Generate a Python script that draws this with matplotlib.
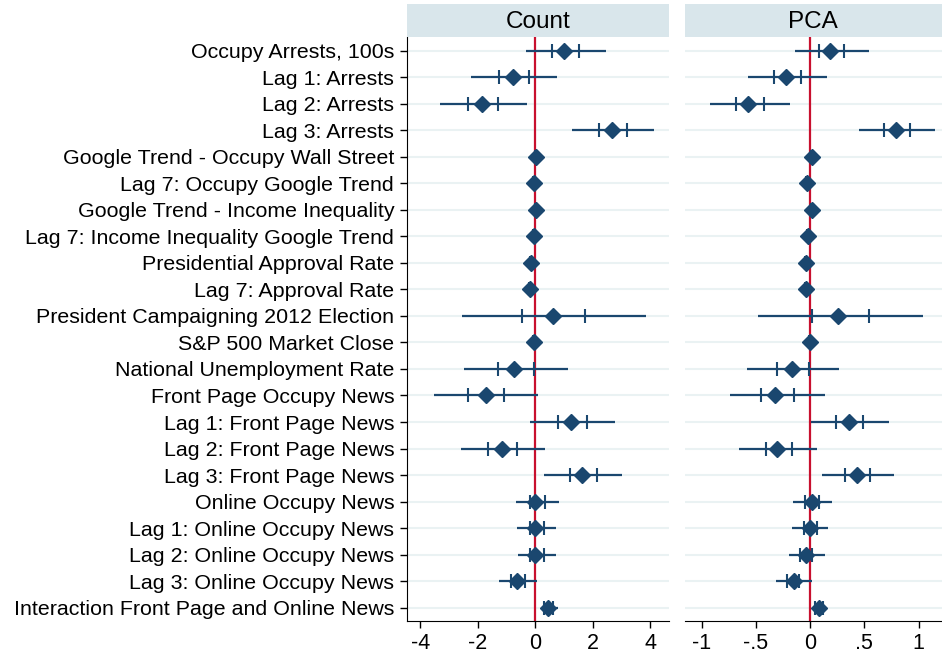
import numpy as np
import matplotlib.pyplot as plt

plt.rcParams['font.family'] = ['Liberation Sans', 'DejaVu Sans']

labels = ["Occupy Arrests, 100s", "Lag 1: Arrests", "Lag 2: Arrests", "Lag 3: Arrests",
          "Google Trend - Occupy Wall Street", "Lag 7: Occupy Google Trend",
          "Google Trend - Income Inequality", "Lag 7: Income Inequality Google Trend",
          "Presidential Approval Rate", "Lag 7: Approval Rate",
          "President Campaigning 2012 Election", "S&P 500 Market Close",
          "National Unemployment Rate", "Front Page Occupy News",
          "Lag 1: Front Page News", "Lag 2: Front Page News", "Lag 3: Front Page News",
          "Online Occupy News", "Lag 1: Online Occupy News", "Lag 2: Online Occupy News",
          "Lag 3: Online Occupy News", "Interaction Front Page and Online News"]

# Count model: estimate, inner interval, outer (95%) interval
count_est = [1.00, -0.79, -1.87, 2.69, 0.02, -0.06, 0.01, -0.06, -0.16, -0.19, 0.63,
             -0.06, -0.74, -1.73, 1.25, -1.17, 1.63, 0.00, 0.00, 0.00, -0.63, 0.43]
count_lo90 = [0.58, -1.25, -2.35, 2.21, 0.00, -0.08, -0.01, -0.08, -0.20, -0.22, -0.45,
              -0.07, -1.31, -2.33, 0.80, -1.63, 1.21, -0.19, -0.19, -0.17, -0.84, 0.30]
count_hi90 = [1.53, -0.22, -1.29, 3.19, 0.04, -0.04, 0.03, -0.04, -0.12, -0.15, 1.75,
              -0.05, -0.05, -1.08, 1.82, -0.63, 2.14, 0.35, 0.30, 0.30, -0.37, 0.63]
count_lo95 = [-0.33, -2.24, -3.33, 1.28, -0.01, -0.09, -0.02, -0.09, -0.22, -0.24, -2.54,
              -0.08, -2.49, -3.52, -0.17, -2.59, 0.30, -0.67, -0.63, -0.59, -1.27, 0.26]
count_hi95 = [2.45, 0.77, -0.30, 4.15, 0.05, -0.03, 0.04, -0.03, 0.07, 0.05, 3.86,
              -0.04, 1.13, 0.09, 2.78, 0.34, 3.01, 0.84, 0.74, 0.74, 0.07, 0.79]

# PCA model
pca_est = [0.18, -0.22, -0.57, 0.79, 0.02, -0.03, 0.02, -0.02, -0.04, -0.04, 0.26,
           0.00, -0.17, -0.32, 0.36, -0.30, 0.43, 0.02, 0.00, -0.04, -0.15, 0.08]
pca_lo90 = [0.08, -0.33, -0.68, 0.68, 0.01, -0.04, 0.01, -0.03, -0.05, -0.05, 0.02,
            -0.01, -0.30, -0.45, 0.24, -0.41, 0.32, -0.05, -0.06, -0.09, -0.21, 0.05]
pca_hi90 = [0.31, -0.08, -0.42, 0.92, 0.03, -0.02, 0.03, -0.01, -0.03, -0.03, 0.54,
            0.01, -0.01, -0.15, 0.49, -0.17, 0.55, 0.08, 0.06, 0.02, -0.10, 0.12]
pca_lo95 = [-0.14, -0.57, -0.92, 0.45, 0.00, -0.05, 0.00, -0.04, -0.06, -0.06, -0.48,
            -0.01, -0.58, -0.74, 0.01, -0.65, 0.11, -0.16, -0.17, -0.19, -0.31, 0.03]
pca_hi95 = [0.54, 0.16, -0.18, 1.15, 0.04, -0.01, 0.04, 0.00, -0.02, -0.02, 1.04,
            0.01, 0.27, 0.14, 0.73, 0.06, 0.77, 0.20, 0.17, 0.14, 0.02, 0.15]

navy = "#1a476f"
red = "#c8102e"
head_col = "#d9e6eb"
grid_col = "#eaf2f3"

fig = plt.figure(figsize=(9.42, 6.57), dpi=100)
y = np.arange(1, len(labels) + 1)

panels = [
    ("Count", count_est, count_lo90, count_hi90, count_lo95, count_hi95,
     [0.4317, 0.0548, 0.2782, 0.8884], (-4.48, 4.65), [-4, -2, 0, 2, 4], ["-4", "-2", "0", "2", "4"]),
    ("PCA", pca_est, pca_lo90, pca_hi90, pca_lo95, pca_hi95,
     [0.7272, 0.0548, 0.2723, 0.8884], (-1.152, 1.212), [-1, -0.5, 0, 0.5, 1], ["-1", "-.5", "0", ".5", "1"]),
]

for i, (title, est, lo90, hi90, lo95, hi95, pos, xl, xt, xtl) in enumerate(panels):
    ax = fig.add_axes(pos)
    for yy in y:
        ax.axhline(yy, color=grid_col, lw=1.5, zorder=0)
    ax.axvline(0, color=red, lw=1.6, zorder=2)
    ax.hlines(y, lo95, hi95, color=navy, lw=1.6, zorder=3)
    ax.plot(lo90, y, ls="none", marker="|", ms=10, mew=1.5, color=navy, zorder=3)
    ax.plot(hi90, y, ls="none", marker="|", ms=10, mew=1.5, color=navy, zorder=3)
    ax.plot(est, y, ls="none", marker="D", ms=8.5, color=navy, zorder=4)
    ax.set_xlim(xl)
    ax.set_ylim(len(labels) + 0.5, 0.5)
    ax.set_xticks(xt)
    ax.set_xticklabels(xtl, fontsize=15.5)
    ax.tick_params(axis="x", length=5, width=1, pad=4)
    ax.spines["top"].set_visible(False)
    ax.spines["right"].set_visible(False)
    if i == 0:
        ax.set_yticks(y)
        ax.set_yticklabels(labels, fontsize=15.4)
        ax.tick_params(axis="y", length=5, width=1, pad=4)
    else:
        ax.set_yticks([])
        ax.spines["left"].set_visible(False)

    # header strip
    hx = fig.add_axes([pos[0], 0.9432, pos[2], 0.0507])
    hx.set_facecolor(head_col)
    hx.set_xticks([])
    hx.set_yticks([])
    for s in hx.spines.values():
        s.set_visible(False)
    hx.text(0.5, 0.45, title, ha="center", va="center", fontsize=17.5, transform=hx.transAxes)

fig.savefig("out.png", dpi=100)
